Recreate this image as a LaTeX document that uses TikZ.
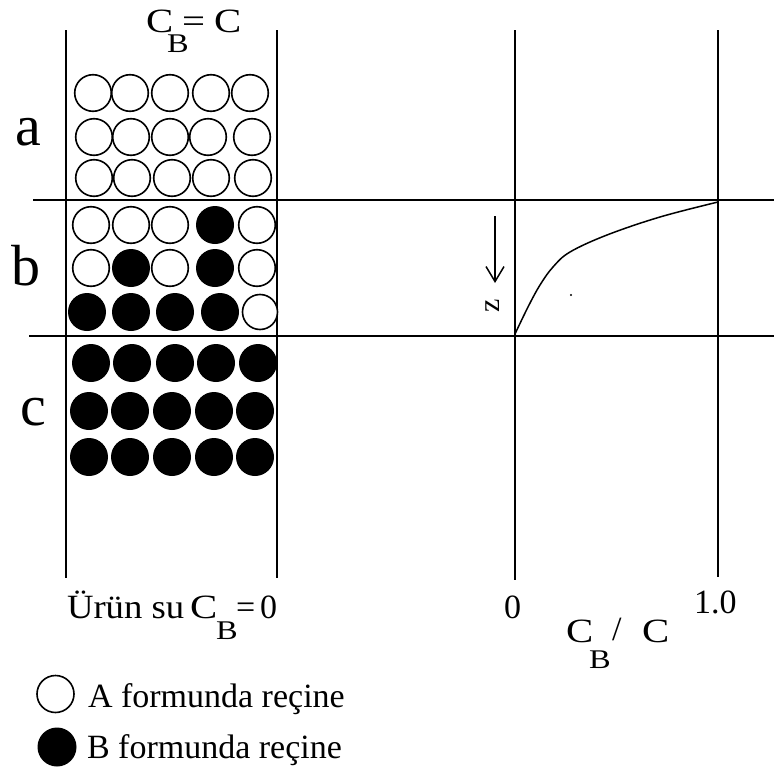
\documentclass[tikz,border=0pt]{standalone}
\usepackage{fontspec}
\setmainfont{Liberation Serif}
\usetikzlibrary{arrows.meta}
\newcommand{\widetxt}[1]{\scalebox{1.2}[1]{#1}}
\begin{document}
\begin{tikzpicture}[x=1pt,y=-1pt,
  lbl/.style={anchor=base west,inner sep=0pt,outer sep=0pt},
  frame/.style={line width=1.8pt,black},
  wc/.style={draw=black,line width=1.6pt,fill=white},
  bc/.style={fill=black},
  big/.style={font=\fontsize{58}{60}\selectfont},
  mid/.style={font=\fontsize{34}{36}\selectfont},
  leg/.style={font=\fontsize{34}{36}\selectfont},
  sub/.style={font=\fontsize{27}{30}\selectfont}]
\useasboundingbox[fill=white] (0,0) rectangle (774,771);
% frame lines
\draw[frame] (66,30) -- (66,578);
\draw[frame] (277,30) -- (277,578);
\draw[frame] (515,30) -- (515,580);
\draw[frame] (718,30) -- (718,577);
\draw[frame] (33,200) -- (774,200);
\draw[frame] (29,336) -- (774,336);
% zone labels
\node[lbl,big] (la) at (15,145) {a};
\node[lbl,big] (lb) at (12,285) {b};
\node[lbl,big] (lc) at (20,425) {c};
% top label
\node[lbl,mid] (t1) at (146,32) {\widetxt{C}};
\node[lbl,sub] (t2) at (167,52) {\widetxt{B}};
\node[lbl,mid] (t3) at (182,32) {\widetxt{=}};
\node[lbl,mid] (t4) at (214,32) {\widetxt{C}};
% circles zone a
\foreach \x in {93,130,170,211,250} \draw[wc] (\x,93) circle (18.3);
\foreach \x in {94,131,170,208,252} \draw[wc] (\x,137) circle (18.3);
\foreach \x in {94,132,172,211,253} \draw[wc] (\x,178) circle (18.3);
% zone b
\foreach \x in {91,131,170,257} \draw[wc] (\x,225) circle (18.3);
\fill[bc] (215,225) circle (19);
\foreach \x in {91,170,257} \draw[wc] (\x,268) circle (18.3);
\foreach \x in {131,215} \fill[bc] (\x,268) circle (19);
\foreach \x in {87,131,175,220} \fill[bc] (\x,312) circle (19);
\draw[wc] (260,312) circle (17.5);
% zone c
\foreach \x in {91,132,175,216,258} \fill[bc] (\x,363) circle (19);
\foreach \x in {89,130,172,214,255} \fill[bc] (\x,411) circle (19);
\foreach \x in {89,130,172,214,255} \fill[bc] (\x,457) circle (19);
% bottom left label
\node[lbl,mid] (u0) at (67,618) {\scalebox{1.08}[1]{Ürün su}};
\node[lbl,mid] (u1) at (190,618) {\widetxt{C}};
\node[lbl,sub] (u2) at (216,639) {\widetxt{B}};
\node[lbl,mid] (u3) at (236,618) {=};
\node[lbl,mid] (u4) at (260,618) {0};
% curve
\draw[line width=1.5pt] plot[smooth,tension=0.6] coordinates
  {(515,334) (528,307) (540,285) (553,267) (570,252) (607,235) (660,217) (718,202)};
\fill (571,295) circle (1.2);
% z arrow
\coordinate (za) at (495,216);
\coordinate (zb) at (495,283);
\draw[line width=1.5pt,-{Straight Barb[length=15pt,width=18pt,line width=1.5pt]}] (za) -- (zb);
\node[inner sep=0pt,rotate=90,font=\fontsize{30}{32}\selectfont] (zl) at (493,306) {z};
% right axis labels
\node[lbl,mid] (r0) at (504,618) {0};
\node[lbl,mid] (r1) at (694,613) {1.0};
\node[lbl,mid] (r2) at (566,642) {\widetxt{C}};
\node[lbl,sub] (r3) at (589,668) {\widetxt{B}};
\node[lbl,mid] (r4) at (612,640) {/};
\node[lbl,mid] (r5) at (642,642) {\widetxt{C}};
% legend
\draw[wc] (55.5,694) circle (18.5);
\node[lbl,leg] (lA) at (88,707) {A formunda reçine};
\fill[bc] (57,747) circle (19.5);
\node[lbl,leg] (lB) at (87,758) {B formunda reçine};
\end{tikzpicture}
\end{document}
